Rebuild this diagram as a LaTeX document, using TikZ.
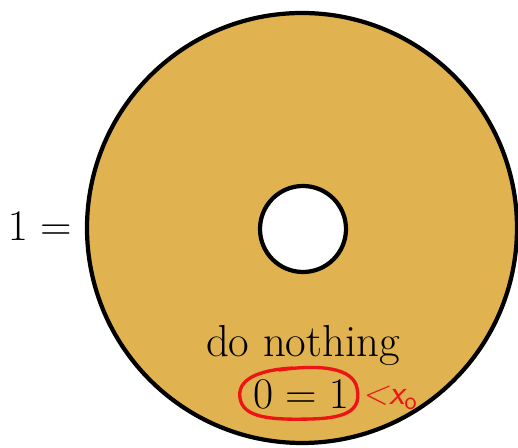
\documentclass[tikz,border=0pt]{standalone}
\usetikzlibrary{positioning,calc}
\definecolor{donutfill}{RGB}{224, 178, 80}
\definecolor{markred}{RGB}{236, 20, 20}
\tikzset{
  bigtext/.style={font=\fontsize{23}{27}\selectfont, inner sep=0pt},
  markpen/.style={draw=markred, line width=1.9pt, line cap=round, line join=round}
}
\begin{document}
\begin{tikzpicture}[x=0.02cm, y=-0.02cm]
        \useasboundingbox (0,0) rectangle (518,448);
        % Donut body
        \begin{scope}
            \clip (0,0) rectangle (518,448);
            \draw[line width=2.4pt, fill=donutfill, even odd rule] (302,228) circle [radius=215] (303,229) circle [radius=43];
        \end{scope}
        \coordinate (centre) at (302,228);
        % Labels
        \node[bigtext, anchor=east] (lhs) at (72,226) {$1 =$};
        \node[bigtext, font=\fontsize{25.5}{30}\selectfont] (action) at (303,346) {do nothing};
        \node[bigtext] (eqn) at (301,394) {$0 = 1$};
        % Red hand annotation
        \draw[markpen] ($(eqn)+(-8,-26)$) .. controls ($(eqn)+(-44,-24)$) and ($(eqn)+(-64,-14)$) .. ($(eqn)+(-61,4)$)
            .. controls ($(eqn)+(-58,24)$) and ($(eqn)+(-30,26)$) .. ($(eqn)+(10,25)$)
            .. controls ($(eqn)+(50,24)$) and ($(eqn)+(60,14)$) .. ($(eqn)+(56,-6)$)
            .. controls ($(eqn)+(52,-26)$) and ($(eqn)+(20,-30)$) .. ($(eqn)+(-22,-24)$);
        \node[text=markred, font=\sffamily\itshape\fontsize{20}{24}\selectfont, anchor=west, inner sep=0pt] (xnaught) at (362,398) {<x$_{\mathsf{o}}$};
    \end{tikzpicture}
\end{document}
